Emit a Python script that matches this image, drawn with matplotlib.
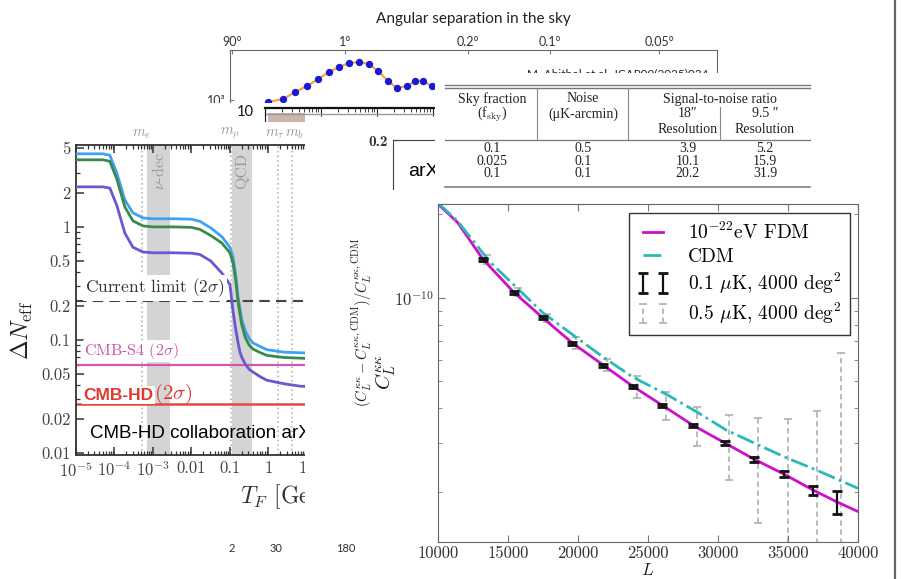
import numpy as np
import matplotlib
matplotlib.use('Agg')
import matplotlib.pyplot as plt
from matplotlib.lines import Line2D
from matplotlib.ticker import FixedLocator, FixedFormatter, NullLocator, NullFormatter, LogLocator

plt.rcParams['mathtext.fontset'] = 'cm'
plt.rcParams['axes.unicode_minus'] = False

W, H = 903, 579

# ---------------- data ----------------
# (1) CMB temperature spectrum fragment (top)
cmb_ell = [22, 39, 57, 79, 103, 131, 160, 193, 229, 269, 309, 357, 403, 460, 508, 558, 619]
cmb_dl = [912, 1047, 1445, 1905, 2630, 3631, 4571, 5495, 5754, 5248, 3802, 2399, 1738, 1905, 2399, 2399, 1905]
sep_deg = [90, 1, 0.2, 0.1, 0.05]
ell_ticks = [2, 30, 180]
cmb_yticks = [1000]
cmb_ylabels = ['10³']
cmb_credit = 'M. Abitbol et al. JCAP09(2025)034'

# (2) strip fragment
strip_ytick = [10]
strip_band = [1.13, 5.2]

# (3) Delta N_eff panel
tf_log = [-5.0, -4.3, -4.12, -3.94, -3.73, -3.52, -3.26, -3.0, -2.5, -2.0, -1.78, -1.5, -1.21, -1.0,
          -0.92, -0.85, -0.79, -0.74, -0.69, -0.6, -0.5, -0.4, -0.2, -0.04, 0.4, 0.82, 1.5, 3.4]
dn_blue = [4.43, 4.43, 4.3, 3.0, 1.73, 1.33, 1.2, 1.18, 1.18, 1.17, 1.12, 0.98, 0.82, 0.66,
           0.54, 0.38, 0.24, 0.19, 0.15, 0.12, 0.103, 0.094, 0.087, 0.082, 0.078, 0.077, 0.076, 0.076]
dn_green = [3.92, 3.92, 3.8, 2.65, 1.5, 1.13, 1.02, 1.0, 1.0, 0.99, 0.95, 0.84, 0.72, 0.59,
            0.48, 0.34, 0.22, 0.17, 0.135, 0.105, 0.09, 0.083, 0.077, 0.073, 0.07, 0.069, 0.068, 0.068]
dn_purple = [2.26, 2.26, 2.2, 1.55, 0.88, 0.66, 0.6, 0.59, 0.59, 0.585, 0.57, 0.5, 0.39, 0.31,
             0.18, 0.125, 0.095, 0.078, 0.07, 0.061, 0.055, 0.052, 0.047, 0.044, 0.041, 0.039, 0.038, 0.038]
limit_current = 0.22
limit_s4 = 0.06
limit_hd = 0.027
mass_vals = [5.11e-4, 0.1057, 1.777, 4.18]
mass_labels = [r'$m_e$', r'$m_\mu$', r'$m_\tau$', r'$m_b$']
nudec_band = [7.0e-4, 2.8e-3]
qcd_band = [0.11, 0.37]
dn_xticks = [1e-5, 1e-4, 1e-3, 1e-2, 1e-1, 1, 10, 100, 1000]
dn_xlabels = [r'$10^{-5}$', r'$10^{-4}$', r'$10^{-3}$', '0.01', '0.1', '1', '10', '100', '1000']
dn_yticks = [0.01, 0.02, 0.05, 0.1, 0.2, 0.5, 1, 2, 5]
dn_ylabels = ['0.01', '0.02', '0.05', '0.1', '0.2', '0.5', '1', '2', '5']

# (4) middle fragment
mid_ytick = [0.2]

# (5) table
tab_fsky = ['0.1', '0.025', '0.1']
tab_noise = ['0.5', '0.1', '0.1']
tab_snr18 = [3.9, 10.1, 20.2]
tab_snr95 = [5.2, 15.9, 31.9]

# (6) lensing power spectrum panel
fdm_L = [10000, 11400, 13200, 15400, 17500, 19600, 21800, 23900, 26000, 28200, 30500, 32600, 34700, 36800, 38500, 40000]
fdm_C = [2.18e-10, 1.87e-10, 1.38e-10, 1.05e-10, 8.47e-11, 6.88e-11, 5.73e-11, 4.81e-11, 4.11e-11,
         3.48e-11, 3.00e-11, 2.62e-11, 2.32e-11, 2.03e-11, 1.84e-11, 1.70e-11]
cdm_L = [10000, 11400, 13700, 17500, 21800, 23900, 26400, 28500, 30600, 32900, 35000, 37100, 40000]
cdm_C = [2.20e-10, 1.89e-10, 1.35e-10, 8.83e-11, 6.12e-11, 5.19e-11, 4.47e-11, 3.88e-11, 3.34e-11,
         2.95e-11, 2.64e-11, 2.39e-11, 2.06e-11]
bin_L = [13200, 15400, 17500, 19600, 21800, 23900, 26000, 28200, 30500, 32600, 34700, 36800, 38500]
bin_C = [1.38e-10, 1.05e-10, 8.47e-11, 6.88e-11, 5.73e-11, 4.81e-11, 4.11e-11, 3.48e-11, 3.00e-11,
         2.62e-11, 2.32e-11, 2.03e-11, 1.84e-11]
err_01 = [1.7e-12, 1.3e-12, 1.05e-12, 0.86e-12, 0.72e-12, 0.6e-12, 0.52e-12, 0.45e-12, 0.45e-12,
          0.5e-12, 0.6e-12, 0.75e-12, 1.8e-12]
err_05 = [5e-12, 3.5e-12, 2.8e-12, 3.4e-12, 2.9e-12, 4.4e-12, 4.9e-12, 5.5e-12, 7.9e-12,
          1.07e-11, 1.34e-11, 1.88e-11, 4.5e-11]
r_xticks = [10000, 15000, 20000, 25000, 30000, 35000, 40000]

# ---------------- figure ----------------
fig = plt.figure(figsize=(W / 100, H / 100), dpi=100)
fig.patch.set_facecolor('white')


def R(x0, y0, x1, y1):
    return [x0 / W, 1 - y1 / H, (x1 - x0) / W, (y1 - y0) / H]


def blank(x0, y0, x1, y1, z):
    a = fig.add_axes(R(x0, y0, x1, y1), zorder=z)
    a.set_facecolor('white')
    a.set_xlim(x0, x1)
    a.set_ylim(y1, y0)
    a.set_xticks([])
    a.set_yticks([])
    for s in a.spines.values():
        s.set_visible(False)
    return a


def T(x, y, s, z, **kw):
    return fig.text(x / W, 1 - y / H, s, zorder=z, **kw)


def fwd(x):
    return np.power(np.clip(x, 1e-9, None), 0.4)


def inv(v):
    return np.power(np.clip(v, 1e-9, None), 2.5)


# ===== layer 1: CMB spectrum =====
ax_c = fig.add_axes(R(230, 50, 717, 125), zorder=1)
ax_c.set_xscale('function', functions=(fwd, inv))
ax_c.set_xlim(1.58, 4870)
ax_c.set_yscale('log')
ax_c.set_ylim(10 ** 2.5, 1e4)
ax_c.plot(cmb_ell, cmb_dl, color='#f4a53a', lw=1.6)
ax_c.plot(cmb_ell, cmb_dl, 'o', color='#1a1ad6', ms=4.3, lw=0)
ax_c.xaxis.tick_top()
ax_c.xaxis.set_minor_locator(NullLocator())
ax_c.xaxis.set_major_locator(FixedLocator([180.0 / d for d in sep_deg]))
ax_c.xaxis.set_major_formatter(FixedFormatter([f'{d:g}°' for d in sep_deg]))
ax_c.yaxis.set_major_locator(FixedLocator(cmb_yticks))
ax_c.yaxis.set_major_formatter(FixedFormatter(cmb_ylabels))
ax_c.yaxis.set_minor_locator(NullLocator())
ax_c.tick_params(direction='in', length=3, color='#777', labelsize=9, labelcolor='#333')
ax_c.tick_params(axis='x', pad=1.5)
for lbl in ax_c.get_xticklabels() + ax_c.get_yticklabels():
    lbl.set_family('Lato')
for s in ax_c.spines.values():
    s.set_color('#666')
T(473, 19, 'Angular separation in the sky', 1.5, ha='center', va='center', size=11, family='Lato', color='#222')
T(708, 74, cmb_credit, 1.5, ha='right', va='center', size=8.5, family='Lato', color='#222')

ax_cb = fig.add_axes(R(230, 539, 717, 540), zorder=1)
ax_cb.patch.set_visible(False)
ax_cb.set_xscale('function', functions=(fwd, inv))
ax_cb.set_xlim(1.58, 4870)
ax_cb.xaxis.set_major_locator(FixedLocator(ell_ticks))
ax_cb.xaxis.set_major_formatter(FixedFormatter([str(v) for v in ell_ticks]))
ax_cb.xaxis.set_minor_locator(NullLocator())
ax_cb.set_yticks([])
ax_cb.tick_params(length=0, labelsize=8, labelcolor='#333', pad=2)
for lbl in ax_cb.get_xticklabels():
    lbl.set_family('Lato')
for s in ax_cb.spines.values():
    s.set_visible(False)

# ===== layer 2: strip =====
blank(190, 103, 440, 125, 2)
ax_s = fig.add_axes(R(265, 108, 435, 220), zorder=2.1)
ax_s.set_xscale('log')
ax_s.set_xlim(1, 1090)
ax_s.set_ylim(0, 10.2)
ax_s.axvspan(strip_band[0], strip_band[1], ymax=0.955, color='#cbb5ae', lw=0)
ax_s.axhline(9.65, color='#999', lw=1.0)
ax_s.xaxis.tick_top()
ax_s.xaxis.set_minor_locator(LogLocator(base=10, subs=np.arange(2, 10), numticks=50))
ax_s.xaxis.set_minor_formatter(NullFormatter())
ax_s.xaxis.set_major_formatter(NullFormatter())
ax_s.tick_params(axis='x', which='major', direction='in', length=6, color='#222')
ax_s.tick_params(axis='x', which='minor', direction='in', length=3, color='#222')
ax_s.yaxis.set_major_locator(FixedLocator(strip_ytick))
ax_s.yaxis.set_major_formatter(FixedFormatter([str(v) for v in strip_ytick]))
ax_s.tick_params(axis='y', length=0, pad=8, labelsize=10.5, labelcolor='#111')
for lbl in ax_s.get_yticklabels():
    lbl.set_family('Lato')
ax_s.spines['top'].set_linewidth(1.6)
ax_s.spines['top'].set_color('#111')
ax_s.spines['left'].set_color('#111')
ax_s.spines['right'].set_visible(False)
ax_s.spines['bottom'].set_visible(False)

# ===== layer 3: Delta N_eff panel =====
blank(0, 122, 305, 538, 3)
ax_l = fig.add_axes(R(76, 145, 400, 455), zorder=3.1)
ax_l.set_xscale('log')
ax_l.set_yscale('log')
ax_l.set_xlim(1e-5, 10 ** 3.42)
ax_l.set_ylim(0.0096, 5.3)
ax_l.axvspan(nudec_band[0], nudec_band[1], color='#d4d4d4', lw=0, zorder=1)
ax_l.axvspan(qcd_band[0], qcd_band[1], color='#d4d4d4', lw=0, zorder=1)
for m in mass_vals:
    ax_l.axvline(m, color='#aaaaaa', lw=1.1, ls=(0, (1, 2)), zorder=1.2)
label_dx = [0, 0, -2.5, 1.5]
for m, lab, dx in zip(mass_vals, mass_labels, label_dx):
    ax_l.annotate(lab, xy=(m, 1.012), xycoords=ax_l.get_xaxis_transform(), xytext=(dx, 0),
                  textcoords='offset points', ha='center', va='bottom', size=10.5, color='#9a9a9a')
ax_l.text(np.sqrt(nudec_band[0] * nudec_band[1]), 0.975, r'$\nu$-dec', transform=ax_l.get_xaxis_transform(),
          rotation=90, ha='center', va='top', size=11.5, color='#9a9a9a', family='cmr10')
ax_l.text(np.sqrt(qcd_band[0] * qcd_band[1]), 0.975, 'QCD', transform=ax_l.get_xaxis_transform(),
          rotation=90, ha='center', va='top', size=11.5, color='#9a9a9a', family='cmr10')
ax_l.axhline(limit_current, color='#444', lw=1.5, ls=(0, (5, 3)), zorder=2)
ax_l.axhline(limit_s4, color='#d257b4', lw=1.6, zorder=2)
ax_l.axhline(limit_hd, color='#e8473d', lw=1.8, zorder=2)
tf = 10 ** np.array(tf_log)
ax_l.plot(tf, dn_blue, color='#3ea2f2', lw=2.0, zorder=3)
ax_l.plot(tf, dn_green, color='#3b8a4c', lw=2.0, zorder=3)
ax_l.plot(tf, dn_purple, color='#6a58d2', lw=2.0, zorder=3)
ax_l.xaxis.set_major_locator(FixedLocator(dn_xticks))
ax_l.xaxis.set_major_formatter(FixedFormatter(dn_xlabels))
ax_l.xaxis.set_minor_locator(LogLocator(base=10, subs=np.arange(2, 10), numticks=50))
ax_l.xaxis.set_minor_formatter(NullFormatter())
ax_l.yaxis.set_major_locator(FixedLocator(dn_yticks))
ax_l.yaxis.set_major_formatter(FixedFormatter(dn_ylabels))
ax_l.yaxis.set_minor_locator(LogLocator(base=10, subs=np.arange(2, 10), numticks=50))
ax_l.yaxis.set_minor_formatter(NullFormatter())
ax_l.tick_params(which='both', direction='in', top=True, right=False, color='#333')
ax_l.tick_params(which='major', length=6, width=1.1, labelsize=12, labelcolor='#444', pad=4)
ax_l.tick_params(which='minor', length=3, width=0.9)
for lbl in ax_l.get_xticklabels() + ax_l.get_yticklabels():
    lbl.set_family('cmr10')
for k in ['left', 'bottom', 'top']:
    ax_l.spines[k].set_color('#333')
    ax_l.spines[k].set_linewidth(1.3)
ax_l.spines['right'].set_visible(False)
T(22, 330, r'$\Delta N_{\rm eff}$', 3.2, rotation=90, ha='center', va='center', size=17, color='#222')
T(240, 497, r'$T_F$ [GeV]', 3.2, ha='left', va='center', size=17, color='#333', family='cmr10')
T(85, 288, r'Current limit $(2\sigma)$', 3.2, ha='left', va='center', size=12.5, color='#333',
  family='cmr10', bbox=dict(facecolor='white', edgecolor='none', pad=1.5))
T(84, 351, r'CMB-S4 $(2\sigma)$', 3.2, ha='left', va='center', size=11.5, color='#cc55aa',
  family='cmr10', bbox=dict(facecolor='white', edgecolor='none', pad=1.0))
T(83, 395, 'CMB-HD', 3.2, ha='left', va='center', size=12.5, color='#e0382f', family='Liberation Sans',
  weight='bold', bbox=dict(facecolor='white', edgecolor='none', pad=1.0))
T(154, 394, r'$(2\sigma)$', 3.2, ha='left', va='center', size=15, color='#e0382f')
T(90, 433, 'CMB-HD collaboration arXiv:2203.05728', 3.2, ha='left', va='center', size=13.5,
  color='#000', family='Liberation Sans')

# ===== layer 4: middle fragment =====
blank(305, 117, 440, 535, 4)
ax_m = fig.add_axes(R(393, 140, 560, 420), zorder=4.1)
ax_m.set_ylim(0, 0.2)
ax_m.set_xticks([])
ax_m.yaxis.set_major_locator(FixedLocator(mid_ytick))
ax_m.yaxis.set_major_formatter(FixedFormatter([f'{v:g}' for v in mid_ytick]))
ax_m.tick_params(axis='y', direction='in', length=4, labelsize=11, labelcolor='#333', pad=4)
for lbl in ax_m.get_yticklabels():
    lbl.set_family('cmb10')
ax_m.spines['right'].set_visible(False)
ax_m.spines['bottom'].set_visible(False)
ax_m.spines['top'].set_color('#444')
ax_m.spines['left'].set_color('#444')
T(408, 172, 'arXiv', 4.2, ha='left', va='center', size=14, color='#000', family='Liberation Sans')

# ===== layer 5: table =====
ax_t = blank(435, 73, 893, 190, 5)
tl, tr = 445, 810
for yy, lw in [(85, 1.0), (88.5, 1.0), (140, 0.9), (187, 1.1)]:
    ax_t.plot([tl, tr], [yy, yy], color='#777', lw=lw)
for xx, y0 in [(537, 88.5), (628, 88.5), (720, 107)]:
    ax_t.plot([xx, xx], [y0, 140], color='#888', lw=0.8)
tfont = dict(family=['Liberation Serif', 'DejaVu Serif'], size=10, color='#222', ha='center', va='center')
col_x = [492, 583, 688, 765]
ax_t.text(col_x[0], 99, 'Sky fraction', **tfont)
ax_t.text(col_x[1], 99, 'Noise', **tfont)
ax_t.text(720, 99, 'Signal-to-noise ratio', **tfont)
ax_t.text(col_x[0], 114, r'(f$_{\rm sky}$)', **tfont)
ax_t.text(col_x[1], 114, '(μK-arcmin)', **tfont)
ax_t.text(col_x[2], 114, '18″', **tfont)
ax_t.text(col_x[3], 114, '9.5 ″', **tfont)
ax_t.text(col_x[2], 130, 'Resolution', **tfont)
ax_t.text(col_x[3], 130, 'Resolution', **tfont)
for i, yy in enumerate([149, 162, 174]):
    ax_t.text(col_x[0], yy, tab_fsky[i], **tfont)
    ax_t.text(col_x[1], yy, tab_noise[i], **tfont)
    ax_t.text(col_x[2], yy, f'{tab_snr18[i]:.1f}', **tfont)
    ax_t.text(col_x[3], yy, f'{tab_snr95[i]:.1f}', **tfont)

# ===== layer 6: lensing power spectrum =====
blank(355, 190, 893, 579, 6)
ax_r = fig.add_axes(R(438, 204, 858, 542), zorder=6.1)
ax_r.set_xlim(10000, 40000)
ax_r.set_yscale('log')
ax_r.set_ylim(1.32e-11, 2.18e-10)
eb05 = ax_r.errorbar(np.array(bin_L) + 280, bin_C, yerr=err_05, fmt='none', ecolor='#b5b5b5',
                     elinewidth=1.3, capsize=3, capthick=1.3, zorder=1)
eb05[2][0].set_linestyle((0, (3, 2)))
h_fdm, = ax_r.plot(fdm_L, fdm_C, color='#cc10cc', lw=2.0, zorder=2)
h_cdm, = ax_r.plot(cdm_L, cdm_C, color='#2bb8b8', lw=2.0, ls='-.', zorder=2)
eb01 = ax_r.errorbar(bin_L, bin_C, yerr=err_01, fmt='none', ecolor='#111', elinewidth=1.6,
                     capsize=3.5, capthick=2.0, zorder=3)
leg = ax_r.legend([h_fdm, h_cdm, eb01, eb05],
                  [r'$10^{-22}$eV FDM', 'CDM', r'0.1 $\mu$K, 4000 deg$^2$', r'0.5 $\mu$K, 4000 deg$^2$'],
                  loc='upper right', bbox_to_anchor=(0.981, 0.973), borderaxespad=0, numpoints=2,
                  fancybox=False, edgecolor='#333', framealpha=1, prop={'family': 'cmr10', 'size': 14},
                  handlelength=1.6, handletextpad=1.0, labelspacing=0.25, borderpad=0.45)
leg.get_frame().set_linewidth(1.0)
ax_r.xaxis.set_major_locator(FixedLocator(r_xticks))
ax_r.xaxis.set_major_formatter(FixedFormatter([str(v) for v in r_xticks]))
ax_r.yaxis.set_minor_locator(LogLocator(base=10, subs=np.arange(2, 10), numticks=50))
ax_r.yaxis.set_minor_formatter(NullFormatter())
ax_r.tick_params(which='both', direction='in', top=True, right=True, color='#777')
ax_r.tick_params(which='major', length=5, labelsize=12, labelcolor='#333', pad=3)
ax_r.tick_params(which='minor', length=3)
for lbl in ax_r.get_xticklabels() + ax_r.get_yticklabels():
    lbl.set_family('cmr10')
for s in ax_r.spines.values():
    s.set_color('#666')
T(648, 570, r'$L$', 6.2, ha='center', va='center', size=12.5, color='#222')
T(386, 372, r'$C_L^{\kappa\kappa}$', 6.2, rotation=90, ha='center', va='center', size=15, color='#222')
T(362, 322, r'$(C_L^{\kappa\kappa}-C_L^{\kappa\kappa,{\rm CDM}})/C_L^{\kappa\kappa,{\rm CDM}}$', 6.2,
  rotation=90, ha='center', va='center', size=10.5, color='#222')

fig.add_artist(Line2D([895 / W, 895 / W], [0, 1], transform=fig.transFigure, color='#666', lw=1.6, zorder=7))

fig.savefig('out.png', dpi=100, facecolor='white')
